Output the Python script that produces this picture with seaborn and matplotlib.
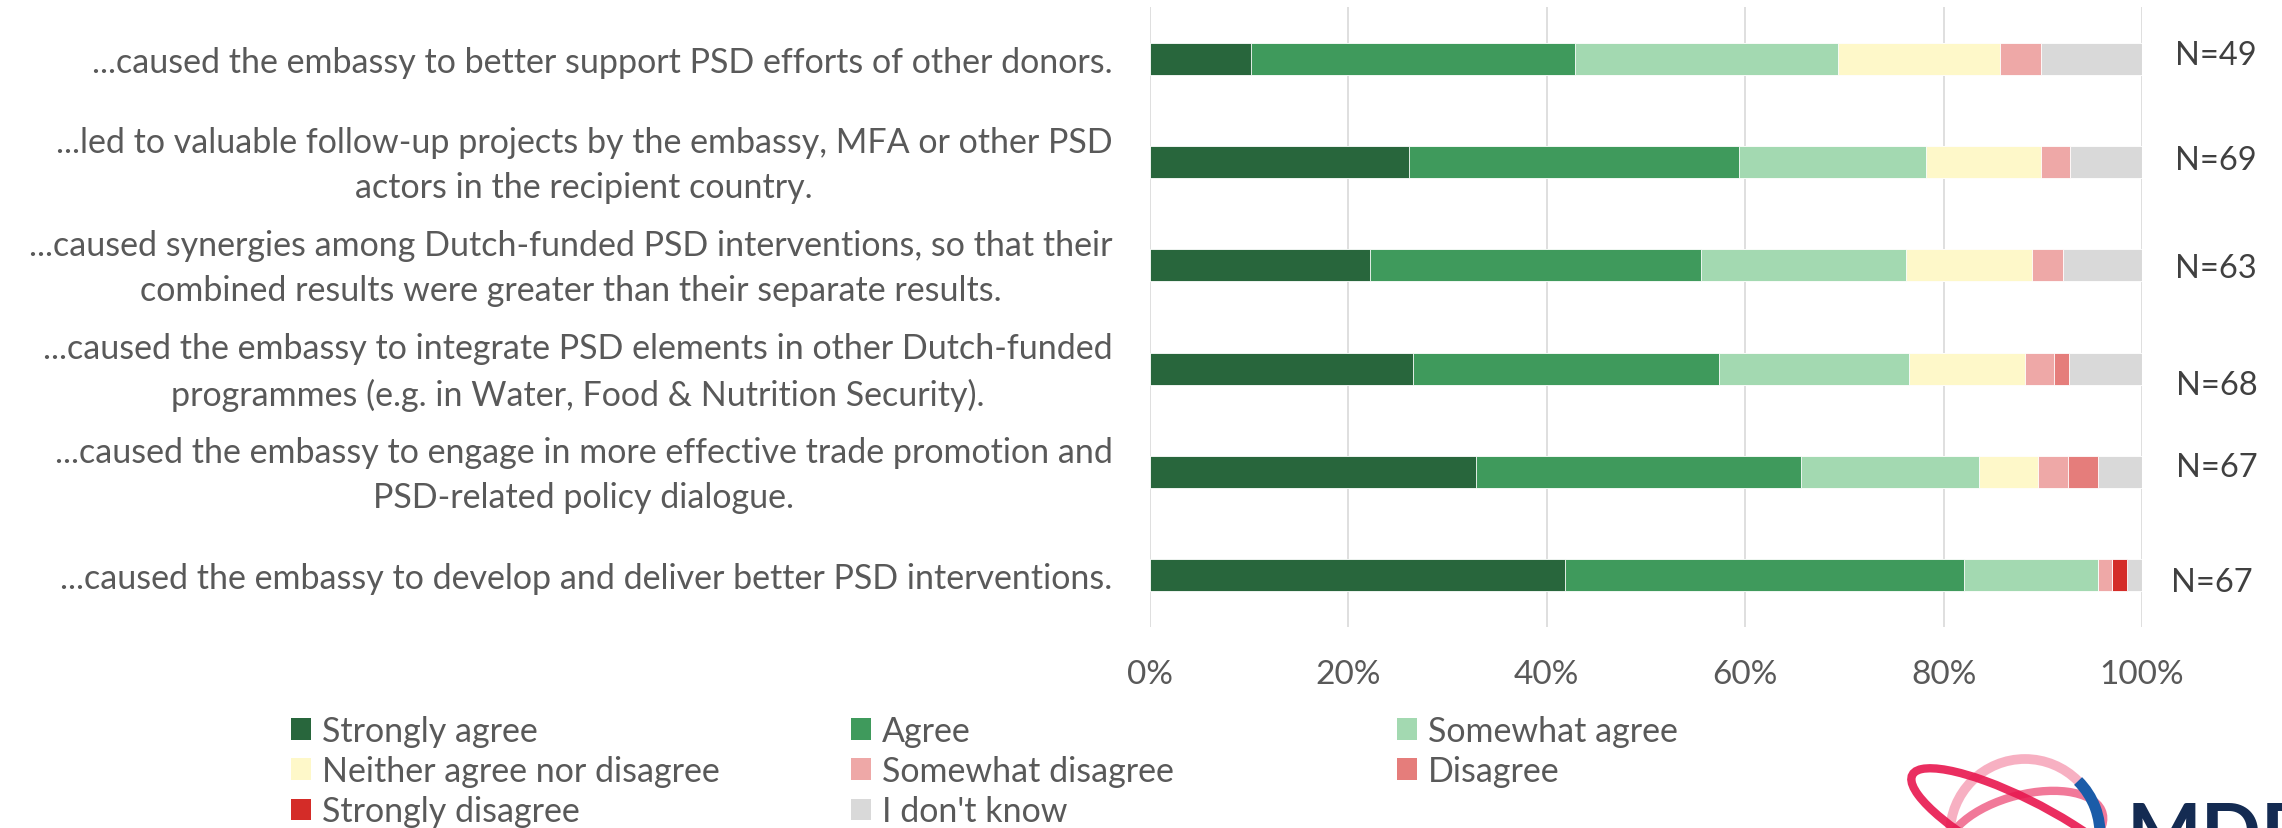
import numpy as np
import pandas as pd
import matplotlib
matplotlib.use("Agg")
import matplotlib.pyplot as plt
from matplotlib.patches import Patch, Ellipse, Arc
from matplotlib.transforms import ScaledTranslation
import seaborn as sns

# ---- data -------------------------------------------------------------
statements = [
    "...caused the embassy to better support PSD efforts of other donors.",
    "...led to valuable follow-up projects by the embassy, MFA or other PSD\nactors in the recipient country.",
    "...caused synergies among Dutch-funded PSD interventions, so that their\ncombined results were greater than their separate results.",
    "...caused the embassy to integrate PSD elements in other Dutch-funded\nprogrammes (e.g. in Water, Food & Nutrition Security).",
    "...caused the embassy to engage in more effective trade promotion and\nPSD-related policy dialogue.",
    "...caused the embassy to develop and deliver better PSD interventions.",
]
levels = ["Strongly agree", "Agree", "Somewhat agree",
          "Neither agree nor disagree", "Somewhat disagree", "Disagree",
          "Strongly disagree", "I don't know"]

# response counts per statement (same order as statements)
strongly_agree    = [5, 18, 14, 18, 22, 28]
agree             = [16, 23, 21, 21, 22, 27]
somewhat_agree    = [13, 13, 13, 13, 12, 9]
neither           = [8, 8, 8, 8, 4, 0]
somewhat_disagree = [2, 2, 2, 2, 2, 1]
disagree          = [0, 0, 0, 1, 2, 0]
strongly_disagree = [0, 0, 0, 0, 0, 1]
dont_know         = [5, 5, 5, 5, 3, 1]
n_respondents     = [49, 69, 63, 68, 67, 67]

colors = ["#28663C", "#3F9A5C", "#A3D9B1", "#FEF8C9",
          "#EEA8A7", "#E57D7B", "#D42C28", "#D9D9D9"]

counts = np.array([strongly_agree, agree, somewhat_agree, neither,
                   somewhat_disagree, disagree, strongly_disagree, dont_know],
                  dtype=float)
pct = counts / np.array(n_respondents, dtype=float) * 100
cum = np.cumsum(pct, axis=0)

rows = []
for li, lev in enumerate(levels):
    for si, st in enumerate(statements):
        rows.append({"statement": st, "level": lev, "cum": cum[li, si]})
df = pd.DataFrame(rows)

# ---- figure -----------------------------------------------------------
sns.set_theme(style="white")
plt.rcParams["font.family"] = ["Lato", "DejaVu Sans"]
FS = 24.5
TXT = "#595959"

W, H = 2282, 829
fig = plt.figure(figsize=(W / 100, H / 100), dpi=100)
ax = fig.add_axes([1150 / W, 1 - 628 / H, 992 / W, 620 / H])

# stacked bars: draw cumulative totals from the last level to the first
for li in reversed(range(len(levels))):
    sub = df[df["level"] == levels[li]]
    sns.barplot(data=sub, x="cum", y="statement", order=statements,
                orient="h", color=colors[li], width=0.31, errorbar=None,
                edgecolor="white", linewidth=0.6, saturation=1, ax=ax,
                zorder=3)

ax.set_xlim(0, 100)
ax.set_ylim(len(statements) - 0.5, -0.5)
ax.set_xticks(np.arange(0, 101, 20))
ax.set_xticklabels([f"{v}%" for v in range(0, 101, 20)])
ax.grid(axis="x", color="#D9D9D9", linewidth=1.2, zorder=0)
ax.grid(axis="y", visible=False)
for s in ax.spines.values():
    s.set_visible(False)
ax.set_xlabel("")
ax.set_ylabel("")
ax.tick_params(axis="x", length=0, pad=23, labelsize=FS - 0.5, labelcolor=TXT)
ax.tick_params(axis="y", length=0, pad=27, labelsize=FS, labelcolor=TXT)
lift = ScaledTranslation(0, 7 / 100, fig.dpi_scale_trans)
for lab in ax.get_yticklabels():
    lab.set_multialignment("center")
    lab.set_linespacing(1.5)
    if "\n" in lab.get_text():
        lab.set_transform(lab.get_transform() + lift)

# sample sizes to the right of each bar
n_x = [107.4, 107.4, 107.4, 107.5, 107.5, 107.0]
n_dy = [-0.04, -0.02, 0.03, 0.16, -0.05, 0.06]
for i, n in enumerate(n_respondents):
    ax.text(n_x[i], i + n_dy[i], f"N={n}", ha="center", va="center",
            fontsize=FS - 1, color="#404040", clip_on=False)

# legend laid out in three equal-width columns
handles = [Patch(facecolor=c, edgecolor="none") for c in colors]
col_x = [291, 851, 1397]
col_items = [[0, 3, 6], [1, 4, 7], [2, 5]]
for cx, items in zip(col_x, col_items):
    fig.legend([handles[i] for i in items], [levels[i] for i in items],
               loc="upper left", bbox_to_anchor=(cx / W, 1 - 716 / H),
               frameon=False, fontsize=FS, labelcolor=TXT,
               handlelength=0.6, handleheight=0.6, handletextpad=0.3,
               labelspacing=0.24, borderpad=0, borderaxespad=0)

# publisher mark in the lower right corner
lx, ly = 2025, 835
for w, h, ang, col, lw in [(150, 150, 0, "#F7A8BC", 7),
                           (140, 90, -20, "#F06A8E", 6),
                           (110, 150, 30, "#E8174F", 6)]:
    fig.patches.append(Ellipse((lx / W, 1 - ly / H), w / W, h / H, angle=ang,
                               transform=fig.transFigure, fill=False,
                               edgecolor=col, linewidth=lw, alpha=0.9))
fig.patches.append(Arc((lx / W, 1 - ly / H), 150 / W, 150 / H, theta1=-10,
                       theta2=70, transform=fig.transFigure,
                       edgecolor="#1B5CA8", linewidth=8))
fig.text(2127 / W, 1 - 860 / H, "MDPI", fontsize=57, fontweight="bold",
         color="#142B52", ha="left", va="baseline", family=["Lato"])

fig.savefig("out.png", dpi=100)
